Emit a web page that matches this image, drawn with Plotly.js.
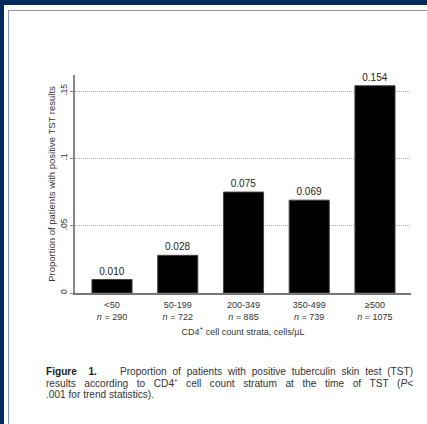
<!DOCTYPE html>
<html>
<head>
<meta charset="utf-8">
<script src="https://cdn.plot.ly/plotly-3.0.1.min.js"></script>
<style>
html,body{margin:0;padding:0;background:#fff;}
#frame{position:absolute;left:0;top:0;width:427px;height:424px;box-sizing:border-box;border-left:4px solid #002b5c;border-top:5px solid #002b5c;background:#fff;}
#inner{position:absolute;left:4px;top:5px;width:423px;height:419px;box-sizing:border-box;border-left:1px solid #8a97a8;border-top:1px solid #8a97a8;}
#chart{position:absolute;left:0;top:0;width:427px;height:424px;}
#caption{position:absolute;left:46px;top:366px;width:399px;transform:scaleX(0.92);transform-origin:0 0;font-family:"Liberation Sans",Arial,sans-serif;font-size:11px;color:#333;}
#caption div{height:11.5px;line-height:11.5px;white-space:nowrap;text-align:justify;text-align-last:justify;}
#caption div.last{text-align-last:left;}
#caption sup{font-size:6.5px;line-height:0;vertical-align:4px;}
</style>
</head>
<body>
<div id="frame"><div id="inner"></div></div>
<div id="chart"></div>
<div id="caption">
<div style="white-space:normal"><b style="color:#222">Figure&nbsp;&nbsp;1.</b>&nbsp;&nbsp;&nbsp; Proportion of patients with positive tuberculin skin test (TST)</div>
<div style="white-space:normal">results according to CD4<sup>+</sup> cell count stratum at the time of TST (<i>P</i>&lt;</div>
<div class="last">.001 for trend statistics).</div>
</div>
<script>
var categories = ["<50", "50-199", "200-349", "350-499", "\u2265500"];
var counts = [290, 722, 885, 739, 1075];
var proportions = [0.010, 0.028, 0.075, 0.069, 0.154];
var yTickVals = [0, 0.05, 0.1, 0.15];
var yTickText = ["0", ".05", ".1", ".15"];

var tickText = categories.map(function(c, i){ return c + "<br><i>n</i> = " + counts[i]; });
var trace = {
  type: "bar",
  x: categories.map(function(c, i){ return i; }),
  y: proportions,
  text: proportions.map(function(v){ return v.toFixed(3); }),
  textposition: "outside",
  cliponaxis: false,
  textfont: {family: "Liberation Sans, Arial, sans-serif", size: 10, color: "#222"},
  marker: {color: "#000", line: {color: "#444", width: 1}},
  width: 0.61,
  hoverinfo: "none"
};
var layout = {
  width: 427, height: 424,
  margin: {l: 75, r: 16, t: 75, b: 131},
  paper_bgcolor: "rgba(0,0,0,0)",
  plot_bgcolor: "rgba(0,0,0,0)",
  showlegend: false,
  font: {family: "Liberation Sans, Arial, sans-serif", color: "#333"},
  xaxis: {
    range: [-0.563, 4.548],
    tickvals: [0,1,2,3,4],
    ticktext: tickText,
    ticks: "",
    ticklabelstandoff: 2,
    showgrid: false,
    zeroline: false,
    showline: true, linecolor: "#777", linewidth: 2,
    tickfont: {size: 9, color: "#333"},
    title: {text: "CD4<sup>+</sup> cell count strata, cells/\u03bcL", font: {size: 9, color: "#333"}, standoff: 8}
  },
  yaxis: {
    range: [0, 0.162],
    tickvals: yTickVals,
    ticktext: yTickText,
    tickangle: -90,
    ticks: "outside", ticklen: 3, tickcolor: "#888",
    showgrid: true, gridcolor: "#aaa", griddash: "1px,1px", gridwidth: 1,
    zeroline: false,
    showline: true, linecolor: "#888", linewidth: 2,
    tickfont: {size: 8.5, color: "#333"},
    title: {text: "Proportion of patients with positive TST results", font: {size: 9.5, color: "#333"}, standoff: 1}
  }
};
Plotly.newPlot("chart", [trace], layout, {displayModeBar: false, staticPlot: true});
</script>
</body>
</html>
